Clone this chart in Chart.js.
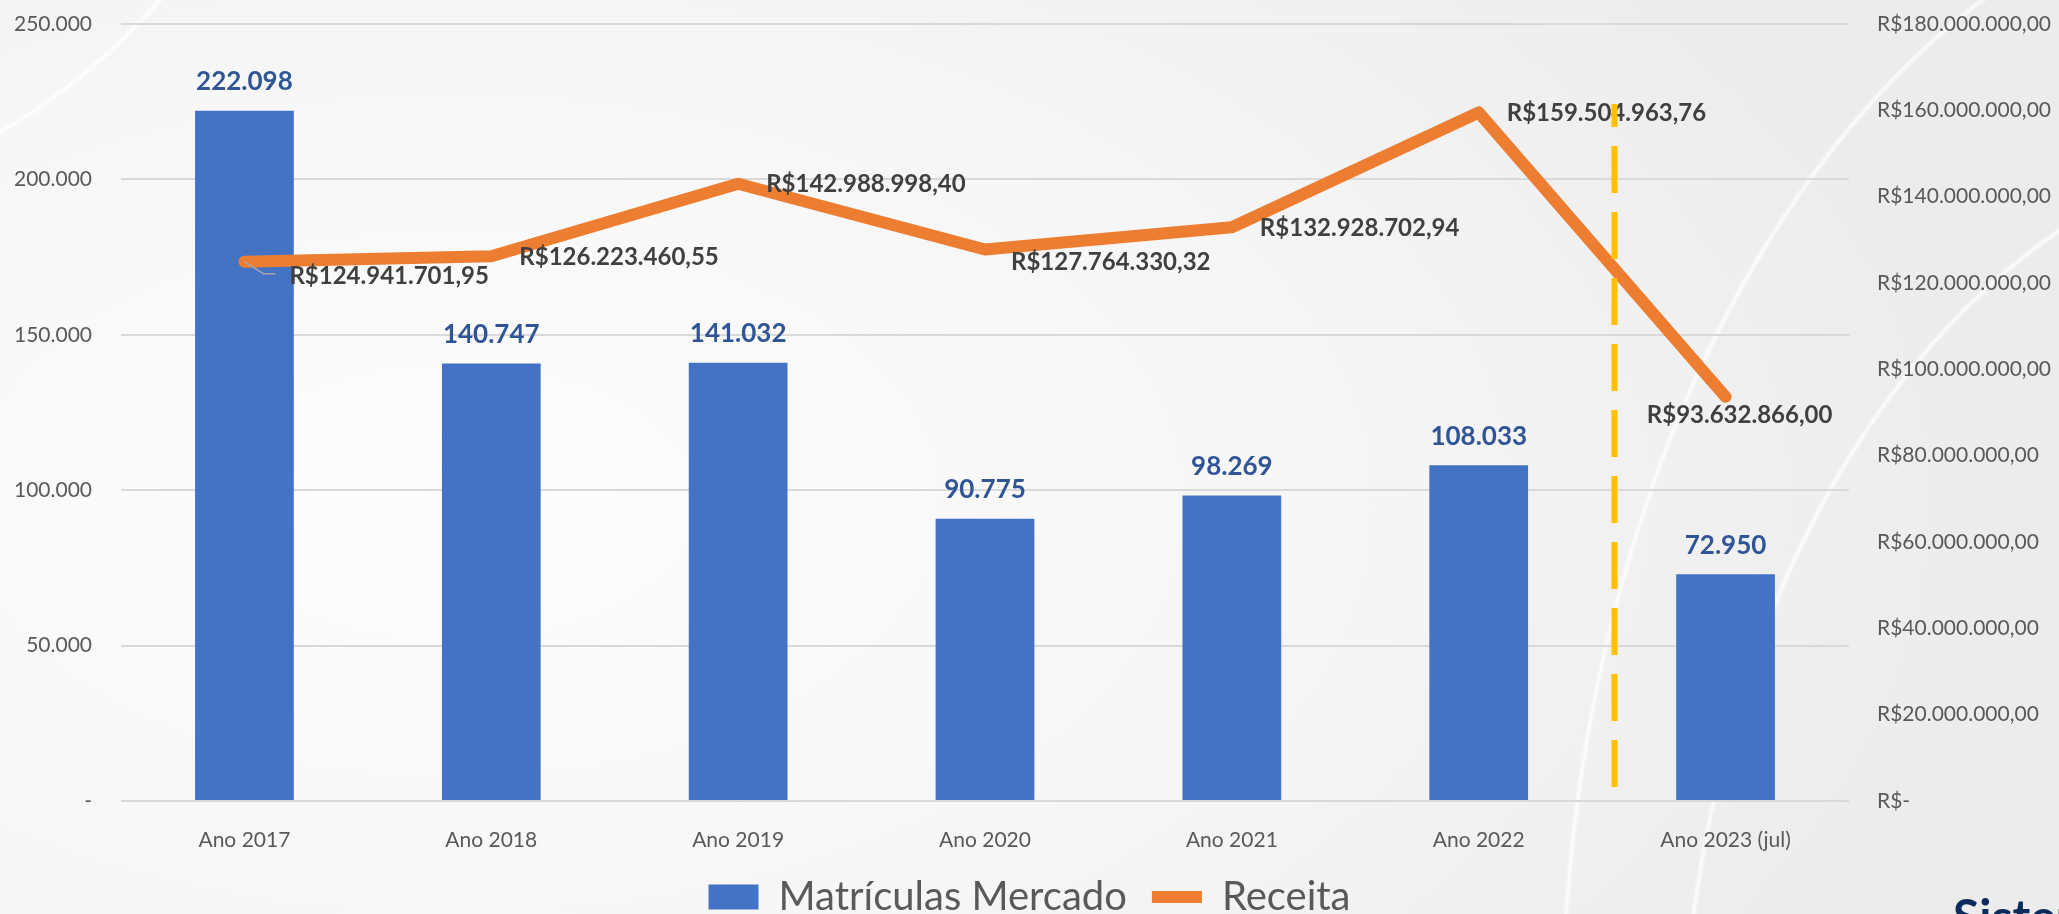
<!DOCTYPE html>
<html lang="pt-BR">
<head>
<meta charset="utf-8">
<title>Matrículas Mercado x Receita</title>
<script src="https://cdn.jsdelivr.net/npm/chart.js@4.4.0/dist/chart.umd.min.js"></script>
<style>
  html, body { margin: 0; padding: 0; }
  body {
    width: 2059px; height: 914px; overflow: hidden; position: relative;
    font-family: Lato, sans-serif;
    background: radial-gradient(ellipse 75% 95% at 22% 55%, #fdfdfd 0%, #f6f6f6 55%, #ececec 100%);
  }
  .swoosh { position: absolute; border-radius: 50%; border: 4px solid rgba(255,255,255,0.8); filter: blur(1px); pointer-events: none; }
  #wrap { position: absolute; left: 0; top: 0; width: 2059px; height: 914px; }
  .brand { position: absolute; left: 1953px; top: 892px; font: 700 48px Lato, sans-serif; color: #0c2a5b; line-height: 1; white-space: nowrap; }
</style>
</head>
<body>
<div class="swoosh" style="left:1560px; top:-120px; width:1500px; height:2300px;"></div>
<div class="swoosh" style="left:1680px; top:140px; width:1300px; height:1900px;"></div>
<div class="swoosh" style="left:-900px; top:-1300px; width:1250px; height:1500px;"></div>
<div id="wrap"><canvas id="chart"></canvas></div>
<div class="brand">Sistema</div>
<script>
// data
const anos = ['Ano 2017', 'Ano 2018', 'Ano 2019', 'Ano 2020', 'Ano 2021', 'Ano 2022', 'Ano 2023 (jul)'];
const matriculas = [222098, 140747, 141032, 90775, 98269, 108033, 72950];
const receita = [124941701.95, 126223460.55, 142988998.40, 127764330.32, 132928702.94, 159504963.76, 93632866.00];

// where each Receita label sits relative to its point
const receitaLabelPos = ['belowRight', 'right', 'right', 'belowRight', 'right', 'right', 'below'];

const groupThousands = s => s.replace(/\B(?=(\d{3})+(?!\d))/g, '.');
const fmtInt = v => v === 0 ? '-' : groupThousands(String(Math.round(v)));
const fmtBRL = v => {
    if (v === 0) return 'R$-';
    const [int, dec] = v.toFixed(2).split('.');
    return 'R$' + groupThousands(int) + ',' + dec;
};

const FONT = 'Lato';
const tickColor = '#595959';

// Value labels for bars and line
const valueLabels = {
    id: 'valueLabels',
    afterDatasetsDraw(chart) {
        const { ctx } = chart;
        ctx.save();
        ctx.textBaseline = 'middle';

        // bar values
        ctx.font = `700 26px ${FONT}`;
        ctx.fillStyle = '#2F5597';
        ctx.textAlign = 'center';
        chart.getDatasetMeta(0).data.forEach((bar, i) => {
            ctx.fillText(fmtInt(matriculas[i]), bar.x, bar.y - 29);
        });

        // receita values
        ctx.font = `700 24px ${FONT}`;
        ctx.fillStyle = '#404040';
        chart.getDatasetMeta(1).data.forEach((pt, i) => {
            const text = fmtBRL(receita[i]);
            const pos = receitaLabelPos[i];
            if (pos === 'below') {
                ctx.textAlign = 'center';
                ctx.fillText(text, pt.x + 14, pt.y + 18);
            } else if (pos === 'belowRight') {
                ctx.textAlign = 'left';
                if (i === 0) {
                    // small leader line like the original
                    ctx.save();
                    ctx.strokeStyle = '#a6a6a6';
                    ctx.lineWidth = 1.5;
                    ctx.beginPath();
                    ctx.moveTo(pt.x, pt.y);
                    ctx.lineTo(pt.x + 19, pt.y + 12);
                    ctx.lineTo(pt.x + 31, pt.y + 12);
                    ctx.stroke();
                    ctx.restore();
                    ctx.fillText(text, pt.x + 45, pt.y + 15);
                } else {
                    ctx.fillText(text, pt.x + 26, pt.y + 13);
                }
            } else {
                ctx.textAlign = 'left';
                ctx.fillText(text, pt.x + 28, pt.y + 1);
            }
        });
        ctx.restore();
    }
};

// Dashed separator between 2022 and the partial 2023
const splitLine = {
    id: 'splitLine',
    afterDatasetsDraw(chart) {
        const { ctx, chartArea } = chart;
        const x = chart.scales.x.getPixelForValue(5.55);
        ctx.save();
        ctx.strokeStyle = '#FFC000';
        ctx.lineWidth = 6;
        ctx.setLineDash([47, 19]);
        ctx.beginPath();
        ctx.moveTo(x, chartArea.bottom - 14);
        ctx.lineTo(x, chartArea.top + 80);
        ctx.stroke();
        ctx.restore();
    }
};

document.addEventListener('DOMContentLoaded', () => {
    const ctx = document.getElementById('chart').getContext('2d');

    new Chart(ctx, {
        type: 'bar',
        data: {
            labels: anos,
            datasets: [
                {
                    type: 'bar',
                    label: 'Matrículas Mercado',
                    data: matriculas,
                    backgroundColor: '#4472C4',
                    yAxisID: 'y',
                    order: 1,
                    categoryPercentage: 1,
                    barPercentage: 0.4
                },
                {
                    type: 'line',
                    label: 'Receita',
                    data: receita,
                    borderColor: '#ED7D31',
                    backgroundColor: '#ED7D31',
                    borderWidth: 12,
                    borderCapStyle: 'round',
                    borderJoinStyle: 'round',
                    pointRadius: 0,
                    pointHoverRadius: 0,
                    tension: 0,
                    yAxisID: 'y1',
                    order: 0
                }
            ]
        },
        options: {
            responsive: true,
            maintainAspectRatio: false,
            animation: false,
            layout: { padding: { top: 24, left: 0, right: 0, bottom: 0 } },
            plugins: {
                tooltip: { enabled: false },
                legend: {
                    position: 'bottom',
                    maxHeight: 62,
                    labels: {
                        usePointStyle: true,
                        pointStyleWidth: 50,
                        boxHeight: 25,
                        padding: 25,
                        color: tickColor,
                        font: { family: FONT, size: 40 },
                        sort: (a, b) => a.datasetIndex - b.datasetIndex,
                        generateLabels(chart) {
                            const items = Chart.defaults.plugins.legend.labels.generateLabels(chart);
                            items.forEach(it => {
                                it.pointStyle = chart.data.datasets[it.datasetIndex].type === 'line' ? 'line' : 'rect';
                            });
                            return items;
                        }
                    }
                }
            },
            scales: {
                x: {
                    grid: { display: false },
                    border: { display: false },
                    ticks: { color: tickColor, padding: 19, font: { family: FONT, size: 21 } },
                    afterFit: s => { s.height = 51; }
                },
                y: {
                    position: 'left',
                    min: 0,
                    max: 250000,
                    ticks: {
                        stepSize: 50000,
                        padding: 0,
                        color: tickColor,
                        font: { family: FONT, size: 21 },
                        callback: v => fmtInt(v)
                    },
                    grid: { color: '#d9d9d9', lineWidth: 2, tickLength: 29, tickColor: 'transparent' },
                    border: { display: false },
                    afterFit: s => { s.width = 121; }
                },
                y1: {
                    position: 'right',
                    min: 0,
                    max: 180000000,
                    ticks: {
                        stepSize: 20000000,
                        padding: 0,
                        color: tickColor,
                        font: { family: FONT, size: 21 },
                        callback: v => fmtBRL(v)
                    },
                    grid: { drawOnChartArea: false, tickLength: 28, tickColor: 'transparent' },
                    border: { display: false },
                    afterFit: s => { s.width = 210; }
                }
            }
        },
        plugins: [valueLabels, splitLine]
    });
});
</script>
</body>
</html>
